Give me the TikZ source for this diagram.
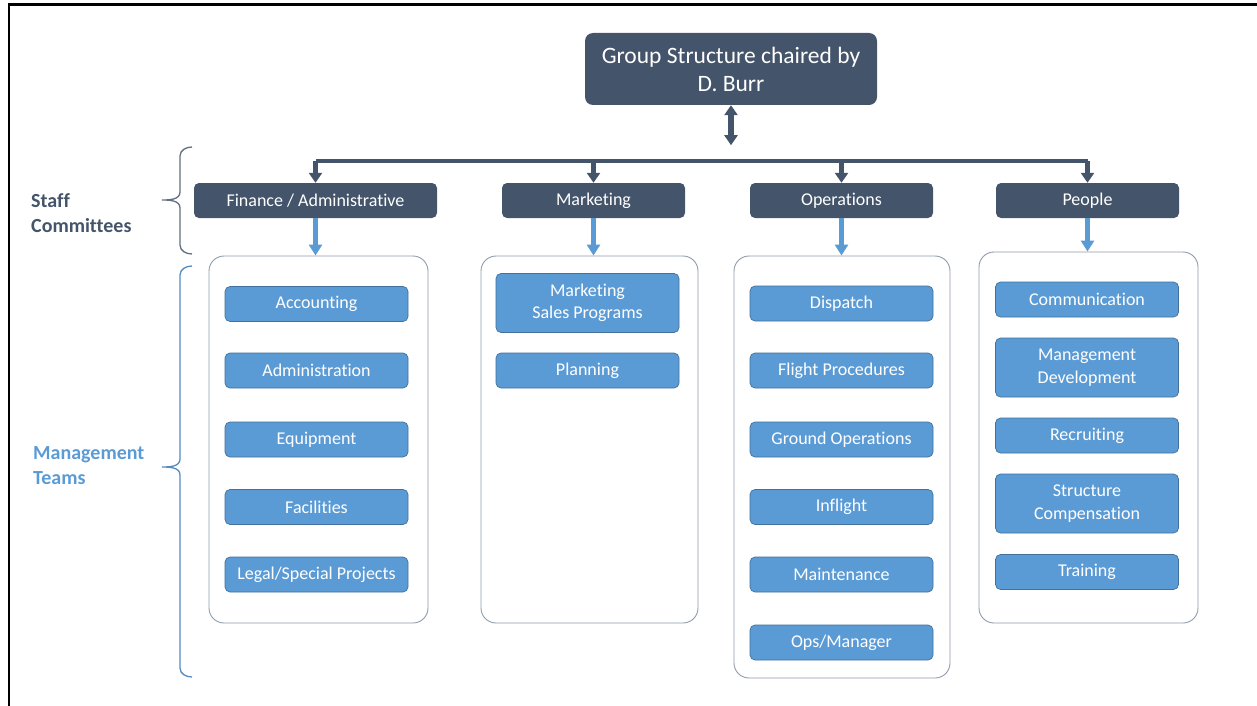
\documentclass[tikz,border=0pt]{standalone}
\usepackage{fontspec}
\setmainfont{Carlito}[Ligatures={NoCommon}]
\usetikzlibrary{arrows.meta}
\definecolor{slate}{HTML}{44546A}
\definecolor{sky}{HTML}{5B9BD5}
\definecolor{skyedge}{HTML}{41719C}
\definecolor{panel}{HTML}{8F9BA8}

\begin{document}
\begin{tikzpicture}[x=1pt,y=-1pt,
  head/.style={fill=slate, rounded corners=8pt, text=white, align=center,
    minimum width=292pt, minimum height=72pt, inner sep=0pt,
    font=\fontsize{23.5}{28}\selectfont},
  committee/.style={fill=slate, rounded corners=5pt, text=white,
    minimum width=183pt, minimum height=35pt, inner sep=0pt,
    font=\fontsize{18}{20}\selectfont},
  panelbox/.style={draw=panel, line width=0.9pt, rounded corners=15pt,
    fill=white, inner sep=0pt, minimum width=218pt},
  team/.style={draw=skyedge, fill=sky, line width=0.7pt, rounded corners=5pt,
    text=white, minimum width=183pt, minimum height=35pt, inner sep=0pt,
    align=center, font=\fontsize{18}{22.5}\selectfont},
  tallteam/.style={team, minimum height=59pt},
  sidelabel/.style={anchor=west, align=left, inner sep=0pt,
    font=\bfseries\fontsize{20}{25.5}\selectfont},
  darkarrow/.style={draw=slate, line width=4.5pt,
    -{Triangle[width=13pt,length=10pt]}},
  bluearrow/.style={draw=sky, line width=4.5pt,
    -{Triangle[width=13pt,length=11pt]}},
  bracket/.style={line width=1.3pt}
]
\useasboundingbox (0,0) rectangle (1257,706);

% page frame (top and left edges)
\draw[line width=2.5pt] (9,706) -- (9,4.5) -- (1257,4.5);

% chair
\node[head] (chair) at (731,69) {Group Structure chaired by\\D. Burr};

% staff committees
\node[committee, minimum width=243pt] (fin) at (315.5,200.5) {Finance / Administrative};
\node[committee] (mkt) at (593.5,200.5) {Marketing};
\node[committee] (ops) at (841.5,200.5) {Operations};
\node[committee] (ppl) at (1087.5,200.5) {People};

% link from the chair to the committee bar
\coordinate (bar) at (731,161);
\draw[draw=slate, line width=5.5pt,
  {Triangle[width=13pt,length=10pt]}-{Triangle[width=13pt,length=10pt]}]
  (chair.south) -- ++(0,40);
\draw[draw=slate, line width=4.5pt] (fin.north |- bar) -- (ppl.north |- bar);
\foreach \c in {fin,mkt,ops,ppl}
  \draw[darkarrow] (\c.north |- bar) -- (\c.north);

% management team panels
\node[panelbox, minimum width=219pt, minimum height=367pt] (finpanel) at (318.5,439.5) {};
\node[panelbox, minimum width=217pt, minimum height=367pt] (mktpanel) at (589.5,439.5) {};
\node[panelbox, minimum width=216pt, minimum height=422pt] (opspanel) at (842,467) {};
\node[panelbox, minimum width=219pt, minimum height=371pt] (pplpanel) at (1088.5,437.5) {};

\draw[bluearrow] (fin.south) -- (fin.south |- finpanel.north);
\draw[bluearrow] (mkt.south) -- (mkt.south |- mktpanel.north);
\draw[bluearrow] (ops.south) -- (ops.south |- opspanel.north);
\draw[bluearrow] (ppl.south) -- (ppl.south |- pplpanel.north);

% Finance / Administrative teams
\node[team] (acc) at (316.5,304) {Accounting};
\node[team] (adm) at (316.5,370.5) {Administration};
\node[team] (equ) at (316.5,439.5) {Equipment};
\node[team] (fac) at (316.5,507) {Facilities};
\node[team] (leg) at (316.5,574.5) {Legal/Special Projects};

% Marketing teams
\node[tallteam] (msp) at (587.5,303) {Marketing\\Sales Programs};
\node[team] (pla) at (587.5,370.5) {Planning};

% Operations teams
\node[team] (dis) at (841.5,303.5) {Dispatch};
\node[team] (flp) at (841.5,370.5) {Flight Procedures};
\node[team] (gro) at (841.5,439.5) {Ground Operations};
\node[team] (inf) at (841.5,507) {Inflight};
\node[team] (mai) at (841.5,574.5) {Maintenance};
\node[team] (opm) at (841.5,642.5) {Ops/Manager};

% People teams
\node[team] (com) at (1087,299.5) {Communication};
\node[tallteam] (mdv) at (1087,367.5) {Management\\Development};
\node[team] (rec) at (1087,435.5) {Recruiting};
\node[tallteam] (stc) at (1087,503.5) {Structure\\Compensation};
\node[team] (tra) at (1087,572) {Training};

% level labels
\node[sidelabel, text=slate] (stafflabel) at (31,213) {Staff\\Committees};
\node[sidelabel, text=sky] (mgmtlabel) at (33,465.5) {Management\\Teams};

% curly brackets for the two levels
\coordinate (s1) at (192,147);
\coordinate (s2) at (162,200);
\coordinate (s3) at (192,254);
\draw[bracket, draw=slate!85]
  (s1) to[out=180,in=90] (180,156) -- (180,192) to[out=-90,in=0] (s2)
  (s2) to[out=0,in=90] (180,208) -- (180,245) to[out=-90,in=180] (s3);

\coordinate (m1) at (192,266);
\coordinate (m2) at (162,467);
\coordinate (m3) at (192,677);
\draw[bracket, draw=sky!90!black]
  (m1) to[out=180,in=90] (180,275) -- (180,459) to[out=-90,in=0] (m2)
  (m2) to[out=0,in=90] (180,475) -- (180,668) to[out=-90,in=180] (m3);
\end{tikzpicture}
\end{document}
